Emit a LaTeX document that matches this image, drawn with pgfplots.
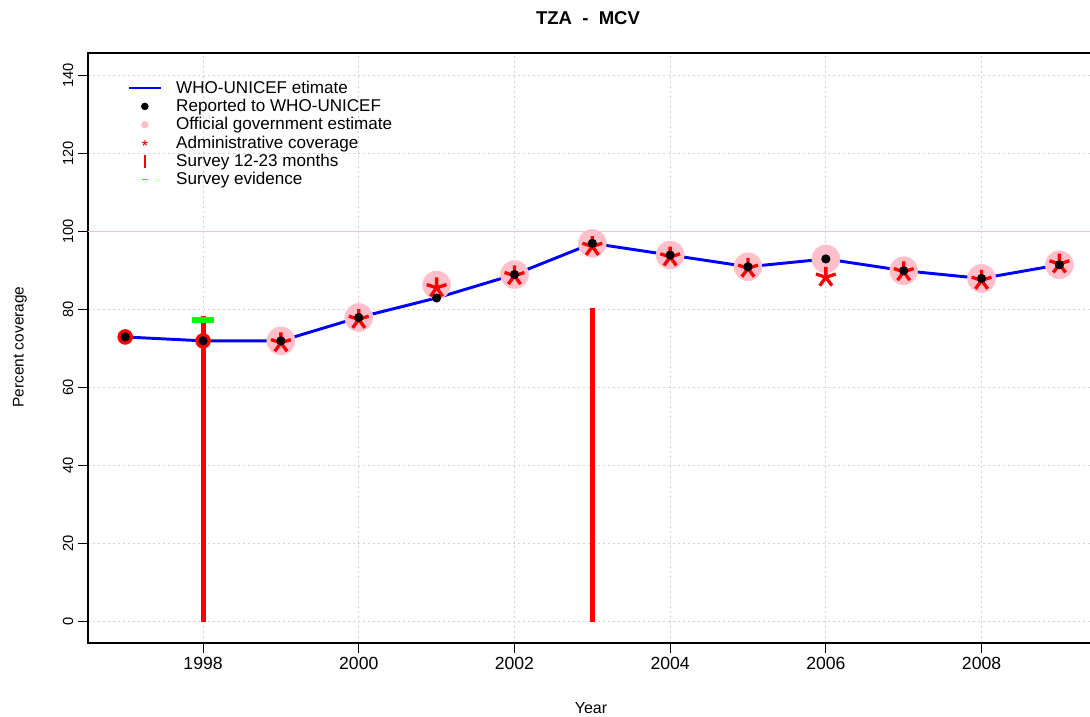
\documentclass[border=0pt]{standalone}
\usepackage{pgfplots}
\pgfplotsset{compat=1.18}
\usepackage{fontspec}
\setmainfont{Liberation Sans}
\definecolor{rpink}{HTML}{FFC0CB}
\definecolor{rblue}{HTML}{0000FF}
\definecolor{rred}{HTML}{FF0000}
\definecolor{rgreen}{HTML}{00FF00}
\definecolor{rgrid}{HTML}{D3D3D3}
\pgfplotsset{
  lineleg/.style={legend image code/.code={\draw[rblue, line width=1.1pt] (0pt,0pt) -- (24pt,0pt);}},
  markleg/.style={legend image code/.code={\path[##1] plot coordinates {(12pt,0pt)};}},
}
\begin{document}
\begin{tikzpicture}
\useasboundingbox (0,0) rectangle (817.5pt,537.75pt);
\begin{axis}[
  at={(66pt,55.5pt)}, anchor=south west,
  scale only axis, width=756pt, height=442.5pt,
  xmin=1996.522, xmax=2009.47, ymin=-5.46, ymax=145.8,
  xtick={1998,2000,...,2008}, ytick={0,20,...,140},
  xtick pos=left, ytick pos=left, tick align=outside,
  major tick length=7.5pt,
  every tick/.style={black, line width=0.8pt},
  axis line style={black, line width=0.9pt},
  grid=major,
  major grid style={rgrid, line width=0.8pt, dash pattern=on 1.5pt off 2.25pt},
  /pgf/number format/assume math mode=true,
  /pgf/number format/1000 sep={},
  xticklabel style={font=\fontsize{13.2}{15}\selectfont},
  yticklabel style={font=\fontsize{11}{13}\selectfont, rotate=90, anchor=south},
  legend style={at={(0.0395,0.9576)}, anchor=north west, draw=none, fill=none,
    font=\fontsize{12.8}{14}\selectfont, row sep=-1.05pt, inner sep=0pt,
    cells={anchor=west}, /tikz/every odd column/.append style={column sep=9pt}},
  legend cell align=left,
]
% legend images
\addlegendimage{lineleg}
\addlegendentry{WHO-UNICEF etimate}
\addlegendimage{black, mark=*, mark size=2.6pt, markleg}
\addlegendentry{Reported to WHO-UNICEF}
\addlegendimage{rpink, mark=*, mark size=2.6pt, markleg}
\addlegendentry{Official government estimate}
\addlegendimage{rred, mark=star, mark size=2.2pt, mark options={line width=0.7pt}, markleg}
\addlegendentry{Administrative coverage}
\addlegendimage{rred, mark=|, mark size=5pt, mark options={line width=1.1pt}, markleg}
\addlegendentry{Survey 12-23 months}
\addlegendimage{rgreen, mark=-, mark size=2.2pt, mark options={line width=1.1pt}, markleg}
\addlegendentry{Survey evidence}
% 100% reference line
\addplot[color=rpink, line width=1.1pt, forget plot] coordinates {(1996.522,100) (2009.47,100)};
% official government estimate
\addplot[only marks, mark=*, mark size=10.5pt, color=rpink, forget plot] coordinates {
(1999,72) (2000,78) (2001,86.3) (2002,89) (2003,97) (2004,94) (2005,91) (2006,93) (2007,90) (2008,88) (2009,91.5)};
% survey 12-23 months
\addplot[rred, line width=3.8pt, forget plot] coordinates {(1998,0) (1998,78.3)};
\addplot[rred, line width=3.8pt, forget plot] coordinates {(2003,0) (2003,80.3)};
% survey evidence
\addplot[only marks, mark=-, mark size=8.5pt, color=rgreen, mark options={line width=4.5pt}, forget plot] coordinates {(1998,77.3)};
% administrative coverage
\addplot[only marks, mark=star, mark size=7.8pt, color=rred, mark options={line width=2.5pt}, forget plot] coordinates {
(1999,71.5) (2000,77.5) (2001,85.6) (2002,88.7) (2003,96.2) (2004,93.5) (2005,90.6) (2006,88.3) (2007,89.7) (2008,87.5) (2009,91.7)};
% red circles (reported, no official)
\addplot[only marks, mark=*, mark size=5.6pt, color=rred, forget plot] coordinates {(1997,73) (1998,72)};
% WUENIC line
\addplot[rblue, line width=2.2pt, forget plot] coordinates {
(1997,73) (1998,72) (1999,72) (2000,78) (2001,83) (2002,89) (2003,97) (2004,94) (2005,91) (2006,93) (2007,90) (2008,88) (2009,91.5)};
% reported
\addplot[only marks, mark=*, mark size=3.2pt, color=black, forget plot] coordinates {
(1997,73) (1998,72) (1999,72) (2000,78) (2001,83) (2002,89) (2003,97) (2004,94) (2005,91) (2006,93) (2007,90) (2008,88) (2009,91.5)};
\end{axis}
\node[font=\bfseries\fontsize{13.9}{16}\selectfont] at (441pt,524.25pt) {TZA\ \ -\ \ MCV};
\node[font=\fontsize{11.6}{14}\selectfont, rotate=90] at (15pt,277.5pt) {Percent coverage};
\node[font=\fontsize{12}{14}\selectfont] at (443.25pt,6.5pt) {Year};
\end{tikzpicture}
\end{document}
